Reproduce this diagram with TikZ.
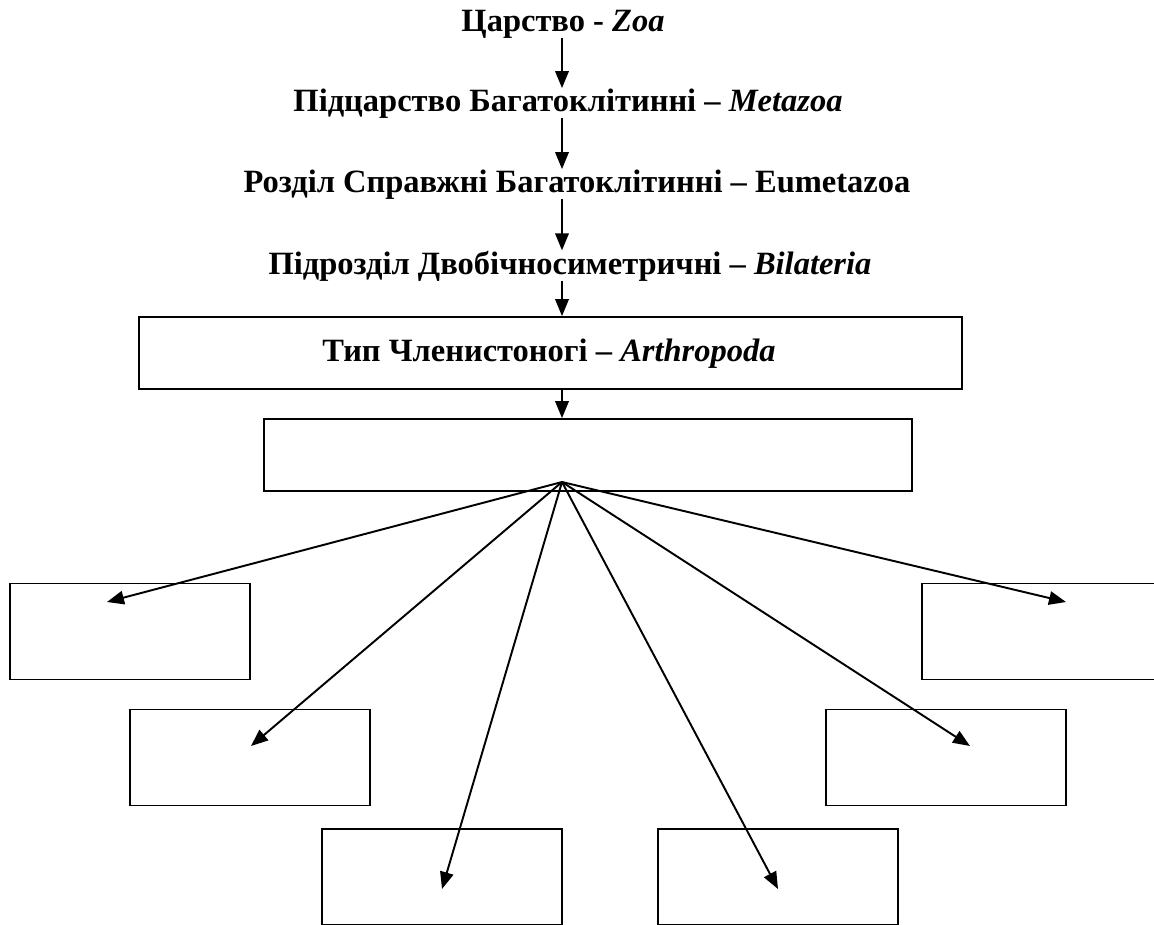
\documentclass[tikz,border=0pt]{standalone}
\usepackage{fontspec}
\setmainfont{Liberation Serif}
\usetikzlibrary{arrows.meta,positioning}

\begin{document}
\begin{tikzpicture}[
    x=0.02cm, y=-0.02cm,
    taxon/.style={
        font=\fontsize{18.5}{22}\selectfont\bfseries,
        inner sep=0pt,
        anchor=base
    },
    rankbox/.style={
        draw,
        line width=1pt,
        inner sep=0pt,
        minimum height=1.44cm
    },
    classbox/.style={
        draw,
        line width=1pt,
        minimum width=4.8cm,
        minimum height=1.92cm
    },
    arrow/.style={-{Triangle[length=0.34cm, width=0.27cm]}, line width=1.1pt}
]
    \useasboundingbox (0,0) rectangle (1154,924);

    % taxon ranks, top to bottom
    \node[taxon] (zoa) at (563,31) {Царство - \textit{Zoa}};
    \node[taxon] (metazoa) at (568,111) {Підцарство Багатоклітинні – \textit{Metazoa}};
    \node[taxon] (eumetazoa) at (577,192) {Розділ Справжні Багатоклітинні – Eumetazoa};
    \node[taxon] (bilateria) at (570,274) {Підрозділ Двобічносиметричні – \textit{Bilateria}};

    \node[rankbox, minimum width=16.46cm] (arthro) at (550.5,353) {};
    \node[taxon] at (549,361) {Тип Членистоногі – \textit{Arthropoda}};
    \node[rankbox, minimum width=12.96cm] (classes) at (588,455) {};

    % empty boxes for the classes
    \node[classbox] (cA) at (130,631.5) {};
    \node[classbox] (cB) at (1042,631.5) {};
    \node[classbox] (cC) at (250,757.5) {};
    \node[classbox] (cD) at (946,757.5) {};
    \node[classbox] (cE) at (442,877) {};
    \node[classbox] (cF) at (778,877) {};

    \coordinate (fan) at (562,482);
    \coordinate (tipA) at (107,602);
    \coordinate (tipB) at (1066,602);
    \coordinate (tipC) at (251,746);
    \coordinate (tipD) at (970,746);
    \coordinate (tipE) at (442,889);
    \coordinate (tipF) at (778,889);

    \draw[arrow] (zoa.south -| fan) -- (metazoa.north -| fan);
    \draw[arrow] (metazoa.south -| fan) -- (eumetazoa.north -| fan);
    \draw[arrow] (eumetazoa.south -| fan) -- (bilateria.north -| fan);
    \draw[arrow] (bilateria.south -| fan) -- (arthro.north -| fan);
    \draw[arrow] (arthro.south -| fan) -- (classes.north -| fan);

    \foreach \t in {tipA,tipB,tipC,tipD,tipE,tipF}
        \draw[arrow] (fan) -- (\t);
\end{tikzpicture}
\end{document}
